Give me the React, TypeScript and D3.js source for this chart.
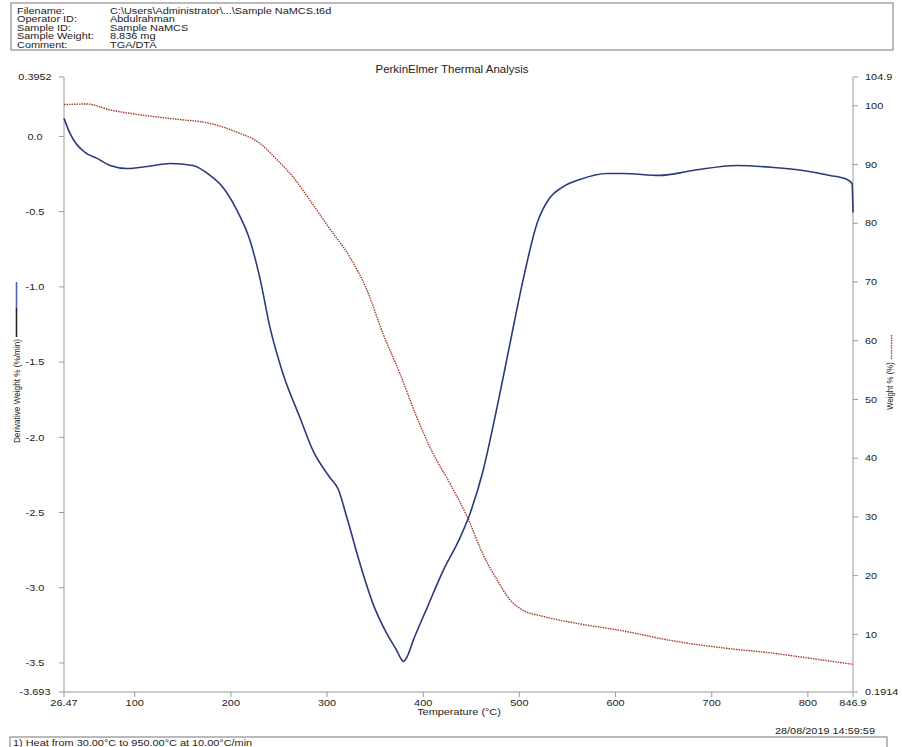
import React from "react";
import * as d3 from "d3";

// derivative weight (blue, left axis)
const tempDeriv = [
  26.47, 32.7, 48.3, 60.8, 74.3, 92.0, 112.8, 136.7, 160.6, 178.3, 191.8, 206.4,
  219.9, 230.3, 240.7, 254.2, 271.9, 285.4, 303.1, 311.4, 320.7, 334.3, 347.8,
  362.3, 372.7, 376.5, 379.5, 383.0, 389.4, 404.0, 420.6, 438.2, 448.6, 462.2,
  476.7, 490.2, 503.7, 518.3, 531.8, 544.3, 563.0, 591.1, 607.7, 646.2, 680.5,
  726.3, 763.7, 794.9, 823.0, 840.7, 845.9, 846.9,
];
const derivValues = [
  0.12, 0.02, -0.106, -0.146, -0.193, -0.213, -0.2, -0.18, -0.193, -0.259,
  -0.339, -0.492, -0.692, -0.945, -1.271, -1.577, -1.87, -2.089, -2.269, -2.342,
  -2.535, -2.841, -3.107, -3.307, -3.42, -3.468, -3.49, -3.462, -3.353, -3.134,
  -2.888, -2.668, -2.508, -2.222, -1.803, -1.377, -0.958, -0.579, -0.406,
  -0.339, -0.286, -0.246, -0.246, -0.259, -0.226, -0.193, -0.206, -0.226,
  -0.259, -0.286, -0.313, -0.506,
];

// weight % (red dotted, right axis)
const tempWeight = [
  26.47, 50.4, 74.3, 108.6, 144.0, 178.3, 206.4, 230.3, 248.0, 264.6, 282.3,
  303.0, 323.9, 341.5, 358.2, 375.8, 393.5, 410.2, 427.8, 446.6, 462.2, 476.7,
  490.2, 503.7, 521.4, 555.7, 607.7, 659.7, 711.7, 763.7, 799.1, 846.9,
];
const weightValues = [
  100.2, 100.3, 99.3, 98.4, 97.7, 97.0, 95.5, 93.6, 90.8, 87.9, 83.9, 79.0,
  74.2, 68.6, 61.2, 54.4, 46.9, 40.8, 35.7, 29.7, 23.6, 19.3, 15.9, 14.1, 13.2,
  12.0, 10.6, 8.9, 7.7, 6.8, 6.0, 4.9,
];

const xTicks = [26.47, 100, 200, 300, 400, 500, 600, 700, 800, 846.9];
const xTickLabels = ["26.47", "100", "200", "300", "400", "500", "600", "700", "800", "846.9"];
const leftTicks = [0.3952, 0, -0.5, -1, -1.5, -2, -2.5, -3, -3.5, -3.693];
const leftTickLabels = ["0.3952", "0.0", "-0.5", "-1.0", "-1.5", "-2.0", "-2.5", "-3.0", "-3.5", "-3.693"];
const rightTicks = [104.9, 100, 90, 80, 70, 60, 50, 40, 30, 20, 10, 0.1914];
const rightTickLabels = ["104.9", "100", "90", "80", "70", "60", "50", "40", "30", "20", "10", "0.1914"];

const headerLabels = ["Filename:", "Operator ID:", "Sample ID:", "Sample Weight:", "Comment:"];
const headerValues = [
  "C:\\Users\\Administrator\\...\\Sample NaMCS.t6d",
  "Abdulrahman",
  "Sample NaMCS",
  "8.836 mg",
  "TGA/DTA",
];

const W = 902;
const H = 747;
const left = 64;
const right = 853;
const top = 77;
const bottom = 692;
const SX = 1.15; // the scan is stretched sideways
const FONT = "'Liberation Sans', Arial, sans-serif";
const INK = "#222";
const AXIS = "#9a9a9a";

const Txt = ({ x, y, anchor = "start", size = 9.5, children }: any) => (
  <text
    transform={`translate(${x},${y}) scale(${SX},1)`}
    textAnchor={anchor}
    dominantBaseline="central"
    fontSize={size}
    fill={INK}
  >
    {children}
  </text>
);

export default function App() {
  const x = d3.scaleLinear().domain([26.47, 846.9]).range([left, right]);
  const yL = d3.scaleLinear().domain([-3.693, 0.3952]).range([bottom, top]);
  const yR = d3.scaleLinear().domain([0.1914, 104.9]).range([bottom, top]);

  const derivLine = d3
    .line<number>()
    .x((d, i) => x(tempDeriv[i]))
    .y((d) => yL(d))
    .curve(d3.curveMonotoneX);
  const weightLine = d3
    .line<number>()
    .x((d, i) => x(tempWeight[i]))
    .y((d) => yR(d))
    .curve(d3.curveMonotoneX);

  return (
    <svg
      width={W}
      height={H}
      style={{ position: "absolute", left: 0, top: 0, background: "#fff" }}
      fontFamily={FONT}
    >
      {/* header box */}
      <rect x={11} y={3} width={882} height={47} fill="none" stroke="#777" />
      {headerLabels.map((l, i) => (
        <g key={l}>
          <Txt x={17} y={10.5 + i * 8.5}>{l}</Txt>
          <Txt x={110} y={10.5 + i * 8.5}>{headerValues[i]}</Txt>
        </g>
      ))}

      <Txt x={452} y={69} anchor="middle" size={10}>
        PerkinElmer Thermal Analysis
      </Txt>

      {/* axes */}
      <line x1={left} x2={left} y1={top} y2={bottom} stroke={AXIS} />
      <line x1={right} x2={right} y1={top} y2={bottom} stroke={AXIS} />
      <line x1={left} x2={right} y1={bottom} y2={bottom} stroke={AXIS} />

      {leftTicks.map((t, i) => (
        <g key={"l" + i}>
          <line x1={left - 5} x2={left} y1={yL(t)} y2={yL(t)} stroke={AXIS} />
          <Txt x={35} y={yL(t)} anchor="middle">{leftTickLabels[i]}</Txt>
        </g>
      ))}
      {rightTicks.map((t, i) => (
        <g key={"r" + i}>
          <line x1={right} x2={right + 5} y1={yR(t)} y2={yR(t)} stroke={AXIS} />
          <Txt x={865} y={yR(t)}>{rightTickLabels[i]}</Txt>
        </g>
      ))}
      {xTicks.map((t, i) => (
        <g key={"x" + i}>
          <line x1={x(t)} x2={x(t)} y1={bottom} y2={bottom + 5} stroke={AXIS} />
          <Txt x={x(t)} y={703} anchor="middle">{xTickLabels[i]}</Txt>
        </g>
      ))}

      <Txt x={459} y={712} anchor="middle">Temperature (°C)</Txt>

      {/* left axis title with legend swatch */}
      <line x1={16.5} x2={16.5} y1={282} y2={308} stroke="#4d62ad" strokeWidth={1.6} />
      <line x1={16.5} x2={16.5} y1={308} y2={337} stroke="#222" strokeWidth={1.6} />
      <text
        transform="translate(16.5,391) rotate(-90) scale(1,1.2)"
        textAnchor="middle"
        dominantBaseline="central"
        fontSize={8.2}
        fill={INK}
      >
        Derivative Weight % (%/min)
      </text>

      {/* right axis title with legend swatch */}
      <line
        x1={891.5}
        x2={891.5}
        y1={335}
        y2={360}
        stroke="#b4402e"
        strokeWidth={1.4}
        strokeDasharray="1.5 1"
      />
      <text
        transform="translate(889.5,386) rotate(-90) scale(1,1.2)"
        textAnchor="middle"
        dominantBaseline="central"
        fontSize={7.8}
        fill={INK}
      >
        Weight % (%)
      </text>

      {/* curves */}
      <path
        d={weightLine(weightValues) || ""}
        fill="none"
        stroke="#a83a2c"
        strokeWidth={1.4}
        strokeDasharray="1.5 1"
      />
      <path
        d={derivLine(derivValues) || ""}
        fill="none"
        stroke="#2c3a7c"
        strokeWidth={1.6}
      />

      <Txt x={875} y={731} anchor="end">28/08/2019 14:59:59</Txt>

      {/* footer box */}
      <rect x={10} y={737} width={877} height={20} fill="none" stroke="#777" />
      <Txt x={13} y={742.5}>1)  Heat from 30.00°C to 950.00°C at 10.00°C/min</Txt>
    </svg>
  );
}
